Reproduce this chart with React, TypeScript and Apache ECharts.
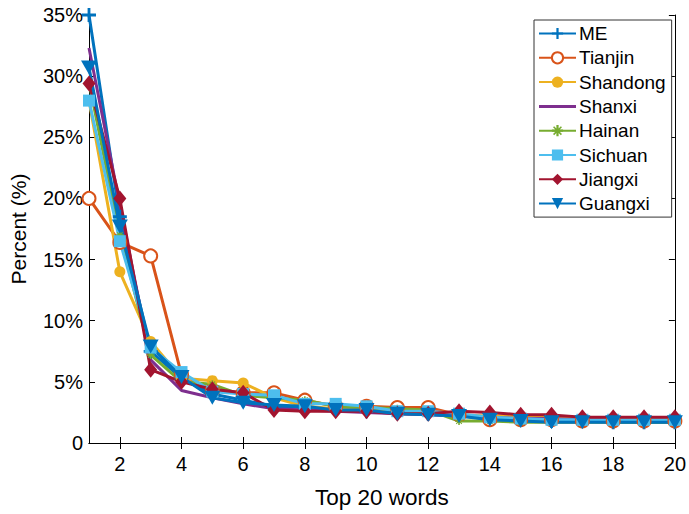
import React, { useEffect, useRef } from "react";
import * as echarts from "echarts";

const ranks = [1, 2, 3, 4, 5, 6, 7, 8, 9, 10, 11, 12, 13, 14, 15, 16, 17, 18, 19, 20];
const xTicks = [2, 4, 6, 8, 10, 12, 14, 16, 18, 20];

const ME = [35, 18.5, 7.5, 5.3, 4.0, 3.5, 3.0, 2.9, 2.7, 2.6, 2.5, 2.4, 2.2, 2.0, 1.9, 1.8, 1.8, 1.7, 1.7, 1.7];
const Tianjin = [20, 16.4, 15.3, 5.6, 4.3, 4.1, 4.1, 3.5, 3.0, 3.0, 2.9, 2.9, 2.3, 1.9, 1.9, 1.9, 1.8, 1.8, 1.8, 1.8];
const Shandong = [28, 14, 8.3, 5.3, 5.1, 4.9, 3.7, 3.0, 2.8, 2.7, 2.6, 2.5, 2.3, 2.2, 2.2, 2.1, 2.0, 1.9, 1.9, 1.9];
const Shanxi = [32.3, 19.5, 6.8, 4.3, 3.7, 3.2, 2.8, 2.7, 2.6, 2.5, 2.4, 2.3, 2.2, 2.1, 2.0, 2.0, 1.9, 1.9, 1.8, 1.8];
const Hainan = [29.5, 17, 7.2, 5.0, 4.8, 3.9, 3.7, 3.5, 3.0, 2.9, 2.8, 2.7, 1.8, 1.8, 1.7, 1.7, 1.7, 1.7, 1.7, 1.7];
const Sichuan = [28, 16.5, 7.8, 5.8, 4.2, 4.0, 3.9, 3.2, 3.2, 3.0, 2.6, 2.6, 2.4, 2.1, 2.0, 1.9, 1.9, 1.9, 1.9, 1.9];
const Jiangxi = [29.4, 20, 6.0, 5.0, 4.4, 4.1, 2.7, 2.6, 2.6, 2.6, 2.4, 2.4, 2.6, 2.5, 2.3, 2.3, 2.1, 2.1, 2.1, 2.1];
const Guangxi = [30.7, 17.7, 7.9, 5.4, 3.7, 3.3, 3.1, 3.0, 2.7, 2.7, 2.4, 2.3, 2.2, 1.9, 1.8, 1.7, 1.7, 1.7, 1.7, 1.7];

const FONT = "'Liberation Sans', Arial, sans-serif";

const PLUS = "path://M4,0h2v4h4v2h-4v4h-2v-4h-4v-2h4z";
const ASTER = "path://M4,0h2v3l2,-2l1,1l-2,2h3v2h-3l2,2l-1,1l-2,-2v3h-2v-3l-2,2l-1,-1l2,-2h-3v-2h3l-2,-2l1,-1l2,2z";
const LINE_ICON = "path://M0,0h37v3h-37z";

type S = { name: string; data: number[]; color: string; symbol: string; size: number | number[]; rotate?: number; empty?: boolean };

const seriesDefs: S[] = [
  { name: "ME", data: ME, color: "#0072BD", symbol: PLUS, size: 14 },
  { name: "Tianjin", data: Tianjin, color: "#D95319", symbol: "emptyCircle", size: 13, empty: true },
  { name: "Shandong", data: Shandong, color: "#EDB120", symbol: "circle", size: 11 },
  { name: "Shanxi", data: Shanxi, color: "#7E2F8E", symbol: "none", size: 0 },
  { name: "Hainan", data: Hainan, color: "#77AC30", symbol: ASTER, size: 8 },
  { name: "Sichuan", data: Sichuan, color: "#4DBEEE", symbol: "rect", size: 12 },
  { name: "Jiangxi", data: Jiangxi, color: "#A2142F", symbol: "diamond", size: [13, 16] },
  { name: "Guangxi", data: Guangxi, color: "#0072BD", symbol: "triangle", size: [16, 14], rotate: 180 },
];

export default function App() {
  const ref = useRef<HTMLDivElement>(null);
  useEffect(() => {
    if (!ref.current) return;
    const chart = echarts.init(ref.current, null, { renderer: "svg" });
    const axisLine = { show: true, lineStyle: { color: "#000", width: 1 } };
    chart.setOption({
      animation: false,
      backgroundColor: "#fff",
      grid: { left: 87, right: 12, top: 15, bottom: 71 },
      legend: {
        orient: "vertical",
        left: 534,
        top: 20,
        padding: [4, 6, 4, 4],
        itemGap: 5.3,
        itemWidth: 37,
        itemHeight: 14,
        borderColor: "#333",
        borderWidth: 1,
        backgroundColor: "#fff",
        textStyle: { fontFamily: FONT, fontSize: 19, color: "#000", padding: [0, 0, 0, -2] },
        data: seriesDefs.map((s) => (s.symbol === "none" ? { name: s.name, icon: LINE_ICON } : s.name)),
      },
      xAxis: [
        {
          type: "value",
          min: 1,
          max: 20,
          position: "bottom",
          name: "Top 20 words",
          nameLocation: "middle",
          nameGap: 43,
          nameTextStyle: { fontFamily: FONT, fontSize: 22.5, color: "#000" },
          axisLine,
          splitLine: { show: false },
          axisTick: { show: true, inside: true, length: 6, customValues: xTicks, lineStyle: { color: "#000" } },
          axisLabel: { customValues: xTicks, fontFamily: FONT, fontSize: 20, color: "#000", margin: 11 },
        },
        {
          type: "value",
          min: 1,
          max: 20,
          position: "top",
          axisLine,
          splitLine: { show: false },
          axisTick: { show: true, inside: true, length: 6, customValues: xTicks, lineStyle: { color: "#000" } },
          axisLabel: { show: false },
        },
      ],
      yAxis: [
        {
          type: "value",
          min: 0,
          max: 35,
          interval: 5,
          position: "left",
          name: "Percent (%)",
          nameLocation: "middle",
          nameGap: 60,
          nameTextStyle: { fontFamily: FONT, fontSize: 21, color: "#000" },
          axisLine,
          splitLine: { show: false },
          axisTick: { show: true, inside: true, length: 6, lineStyle: { color: "#000" } },
          axisLabel: {
            fontFamily: FONT,
            fontSize: 20,
            color: "#000",
            margin: 6,
            formatter: (v: number) => (v === 0 ? "0" : v + "%"),
          },
        },
        {
          type: "value",
          min: 0,
          max: 35,
          interval: 5,
          position: "right",
          axisLine,
          splitLine: { show: false },
          axisTick: { show: true, inside: true, length: 6, lineStyle: { color: "#000" } },
          axisLabel: { show: false },
        },
      ],
      series: seriesDefs.map((s) => ({
        name: s.name,
        type: "line",
        xAxisIndex: 0,
        yAxisIndex: 0,
        data: s.data.map((v, i) => [ranks[i], v]),
        color: s.color,
        symbol: s.symbol,
        symbolSize: s.size,
        symbolRotate: s.rotate || 0,
        showSymbol: s.symbol !== "none",
        lineStyle: { width: 3, color: s.color },
        itemStyle: s.empty ? { color: s.color, borderWidth: 2.5 } : { color: s.color, borderWidth: 0 },
        emphasis: { disabled: true },
      })),
    });
    return () => chart.dispose();
  }, []);
  return <div ref={ref} style={{ position: "fixed", left: 0, top: 0, width: 689, height: 514 }} />;
}
